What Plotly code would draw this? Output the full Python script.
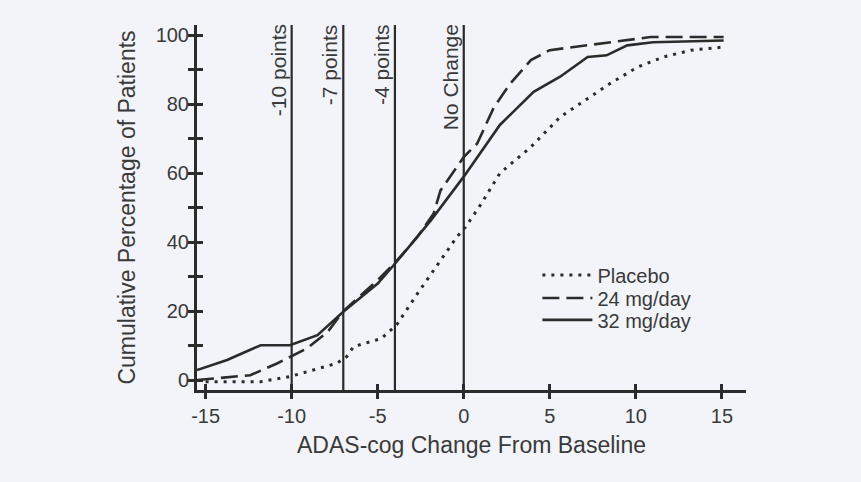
import plotly.graph_objects as go

# ---- data ----
placebo_x = [-15, -11.8, -10.1, -7.4, -6.8, -6.4, -4.8, -3.9, -2.7, -1.5, -0.4, 0.1, 1, 2.1, 3.9, 5.6, 7, 8.5, 10.1, 11.6, 13.2, 15.1]
placebo_y = [-0.5, -0.5, 1, 4.8, 6.8, 9.7, 12, 16, 25, 33.8, 41.5, 44.4, 51, 60, 67.6, 76.3, 81, 86, 90.8, 93.7, 95.7, 96.6]

mg24_x = [-15.5, -12.4, -10.85, -9.1, -7.9, -7, -5, -4, -2.7, -1.75, -1.35, 0, 0.78, 1.74, 2.7, 3.9, 5.0, 7.9, 10.85, 15.1]
mg24_y = [0, 1.4, 4.8, 9.2, 14, 20, 29, 34, 41.5, 48.3, 55, 64.7, 68.6, 79, 86, 92.8, 95.7, 97.6, 99.5, 99.5]

mg32_x = [-15.5, -13.75, -11.8, -10.1, -8.5, -7, -5, -3.9, -1.9, 0, 2.1, 4.06, 5.6, 7.2, 8.3, 9.5, 11, 13, 15.1]
mg32_y = [2.9, 5.8, 10.1, 10.1, 13, 19.8, 28, 34.3, 46.4, 59, 74, 83.6, 88, 93.7, 94.2, 97.1, 98, 98.3, 98.5]

ref_x = [-10, -7, -4, 0]
ref_labels = ["-10 points", "-7 points", "-4 points", "No Change"]

x_ticks = [-15, -10, -5, 0, 5, 10, 15]
x_tick_text = ["-15", "-10", "-5", "0", "5", "10", "15"]
y_ticks = [0, 20, 40, 60, 80, 100]
y_minor = [10, 30, 50, 70, 90]

XR = [-15.5, 16.4]
YR = [-2.9, 103]
INK = "#2b2b2b"
TXT = "#3a3a3a"
BG = "#f3f4f9"
FONT = "Liberation Sans, Arial, sans-serif"

fig = go.Figure()
fig.add_trace(go.Scatter(x=placebo_x, y=placebo_y, mode="lines", name="Placebo", legend="legend",
                         line=dict(color=INK, width=3, dash="3px,6px")))
fig.add_trace(go.Scatter(x=mg24_x, y=mg24_y, mode="lines", name="24 mg/day", legend="legend2",
                         line=dict(color=INK, width=2.6, dash="17px,7px")))
fig.add_trace(go.Scatter(x=mg32_x, y=mg32_y, mode="lines", name="32 mg/day", legend="legend3",
                         line=dict(color=INK, width=2.6)))

for xv, lab in zip(ref_x, ref_labels):
    fig.add_shape(type="line", xref="x", yref="paper", x0=xv, x1=xv, y0=0, y1=1,
                  line=dict(color=INK, width=2.2), layer="below")
    fig.add_annotation(x=xv, y=1, xref="x", yref="paper", text=lab, showarrow=False,
                       textangle=-90, xanchor="right", yanchor="top", xshift=0, yshift=3,
                       font=dict(family=FONT, size=21, color=TXT))

leg_common = dict(x=0.62, xanchor="left", yanchor="middle", bgcolor="rgba(0,0,0,0)",
                  font=dict(family=FONT, size=20, color=TXT), itemwidth=50)

fig.update_layout(
    width=861, height=482,
    paper_bgcolor=BG, plot_bgcolor=BG,
    margin=dict(l=197, r=115, t=25, b=92),
    font=dict(family=FONT, size=20, color=TXT),
    showlegend=True,
    legend=dict(y=0.315, **leg_common),
    legend2=dict(y=0.252, **leg_common),
    legend3=dict(y=0.192, **leg_common),
    xaxis=dict(range=XR, tickvals=x_ticks, ticktext=x_tick_text, ticks="outside", ticklen=6,
               tickwidth=2.5, tickcolor=INK, showline=True, linecolor=INK, linewidth=3,
               showgrid=False, zeroline=False, tickfont=dict(size=20),
               title=dict(text="ADAS-cog Change From Baseline", font=dict(size=23), standoff=11)),
    yaxis=dict(range=YR, tickvals=y_ticks, ticks="outside", ticklen=6, tickwidth=2.5,
               tickcolor=INK, showline=True, linecolor=INK, linewidth=3, showgrid=False,
               zeroline=False, tickfont=dict(size=20), ticklabelstandoff=-5,
               minor=dict(tickvals=y_minor, ticks="outside", ticklen=6,
                          tickwidth=2.5, tickcolor=INK),
               title=dict(text="Cumulative Percentage of Patients", font=dict(size=23),
                          standoff=14)),
    xaxis2=dict(range=XR, tickvals=x_ticks, ticks="inside", ticklen=6, tickwidth=2.5,
                tickcolor=INK, showticklabels=False, overlaying="x", side="bottom",
                showgrid=False, zeroline=False, showline=False),
    yaxis2=dict(range=YR, tickvals=y_ticks + y_minor,
                ticks="inside", ticklen=6, tickwidth=2.5, tickcolor=INK,
                showticklabels=False, overlaying="y", side="left", showgrid=False,
                zeroline=False, showline=False),
)
# invisible trace to activate overlay axes
fig.add_trace(go.Scatter(x=[0], y=[0], xaxis="x2", yaxis="y2", mode="markers",
                         marker=dict(opacity=0), showlegend=False, hoverinfo="skip"))

fig.write_html("out.html", config={"displayModeBar": False})

# remove default browser body margin so the figure fills the window
with open("out.html", "r", encoding="utf-8") as f:
    html = f.read()
html = html.replace("<head>", "<head><style>html,body{margin:0;padding:0;background:%s;}</style>" % BG, 1)
with open("out.html", "w", encoding="utf-8") as f:
    f.write(html)
